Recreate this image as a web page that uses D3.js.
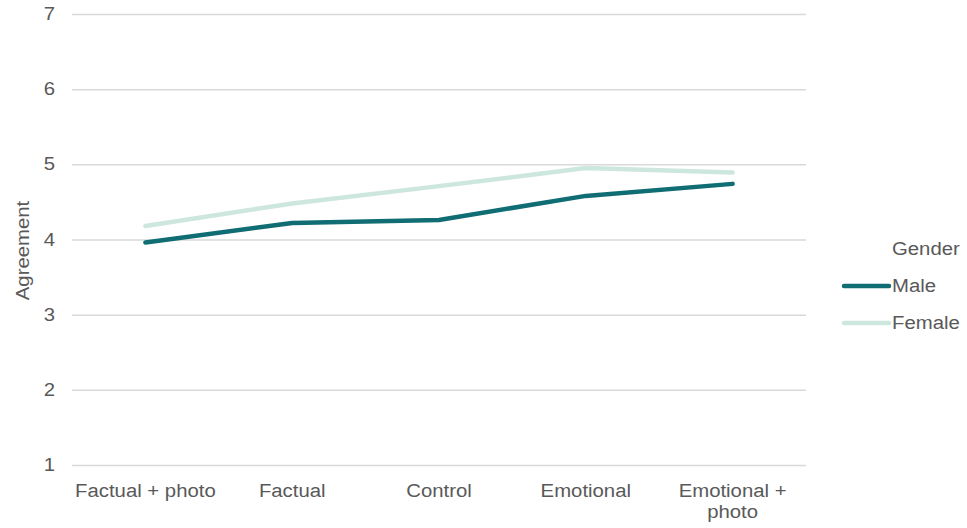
<!DOCTYPE html>
<html>
<head>
<meta charset="utf-8">
<script src="https://cdn.jsdelivr.net/npm/d3@7"></script>
<style>
  html, body { margin: 0; padding: 0; background: #fff; }
  svg text { font-family: "Liberation Sans", Arial, sans-serif; fill: #595959; }
</style>
</head>
<body>
<svg id="chart" width="967" height="528"></svg>
<script>
// Mean agreement by message condition, split by gender
const categories = ["Factual + photo", "Factual", "Control", "Emotional", "Emotional + photo"];
const maleValues = [3.96, 4.22, 4.26, 4.58, 4.74];
const femaleValues = [4.18, 4.48, 4.71, 4.95, 4.89];
const yTicks = [1, 2, 3, 4, 5, 6, 7];
const seriesNames = ["Male", "Female"];
const seriesColors = ["#0f6d73", "#cde6de"];

const svg = d3.select("#chart");
const margin = { left: 72, right: 161, top: 14, bottom: 63 };
const W = 967, H = 528;
const fontSize = 18, stretch = 1.13;

const x = d3.scaleBand().domain(categories).range([margin.left, W - margin.right]);
const y = d3.scaleLinear().domain([1, 7]).range([H - margin.bottom, margin.top]);

// horizontally widened label helper
function label(g, tx, ty, txt, anchor, rotate) {
  const grp = g.append("g").attr("transform", `translate(${tx},${ty})` + (rotate ? ` rotate(${rotate})` : ""));
  grp.append("text")
    .attr("transform", `scale(${stretch},1)`)
    .attr("text-anchor", anchor)
    .style("font-size", fontSize + "px")
    .text(txt);
  return grp;
}

// gridlines
const yAxis = d3.axisLeft(y).tickValues(yTicks).tickSize(-(W - margin.left - margin.right)).tickFormat("");
const gy = svg.append("g").attr("transform", `translate(${margin.left},0)`).call(yAxis);
gy.select(".domain").remove();
gy.selectAll(".tick line").attr("stroke", "#d9d9d9").attr("stroke-width", 1.5);

// y tick labels
const labels = svg.append("g");
yTicks.forEach(t => label(labels, 55, y(t) + 6, String(t), "end"));

// y axis title
label(labels, 29, (y(1) + y(7)) / 2 + 11, "Agreement", "middle", -90);

// x category labels (wrapped)
const xLines = {
  "Factual + photo": ["Factual + photo"],
  "Factual": ["Factual"],
  "Control": ["Control"],
  "Emotional": ["Emotional"],
  "Emotional + photo": ["Emotional +", "photo"]
};
categories.forEach(c => {
  xLines[c].forEach((ln, i) => label(labels, x(c) + x.bandwidth() / 2, 497 + i * 21, ln, "middle"));
});

// series lines
const line = d3.line()
  .x((d, i) => x(categories[i]) + x.bandwidth() / 2)
  .y(d => y(d));

[femaleValues, maleValues].forEach((vals, k) => {
  const color = k === 0 ? seriesColors[1] : seriesColors[0];
  svg.append("path")
    .datum(vals)
    .attr("fill", "none")
    .attr("stroke", color)
    .attr("stroke-width", 4.5)
    .attr("stroke-linejoin", "round")
    .attr("stroke-linecap", "round")
    .attr("d", line);
});

// legend
const legend = svg.append("g");
label(legend, 892, 255, "Gender", "start");
seriesNames.forEach((n, i) => {
  const ly = 286 + i * 37;
  legend.append("line")
    .attr("x1", 844).attr("x2", 889).attr("y1", ly).attr("y2", ly)
    .attr("stroke", seriesColors[i]).attr("stroke-width", 4.5).attr("stroke-linecap", "round");
  label(legend, 892, ly + 6, n, "start");
});
</script>
</body>
</html>
